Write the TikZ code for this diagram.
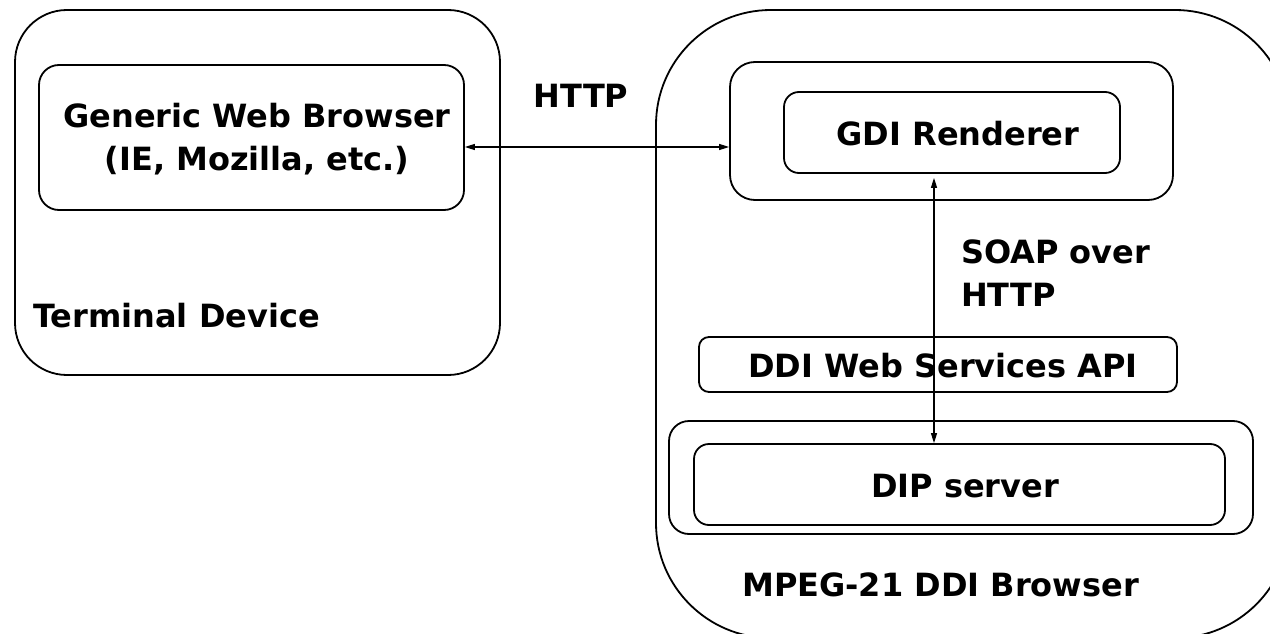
\documentclass[tikz,border=0pt]{standalone}
\usepackage{fontspec}
\newfontfamily\djfont{DejaVu Sans}
\usetikzlibrary{arrows.meta,calc}
\tikzset{
  txt/.style={font=\djfont\bfseries\fontsize{32}{43}\selectfont, inner sep=0pt},
  rbox/.style={draw, line width=1.8pt, inner sep=0pt, txt},
  conn/.style={line width=1.2pt, {Triangle[length=10pt,width=6pt]}-{Triangle[length=10pt,width=6pt]}}
}
\begin{document}
\begin{tikzpicture}[x=1pt,y=-1pt]
\clip (0,0) rectangle (1270,634);
\fill[white] (0,0) rectangle (1270,634);
% left container
\node[rbox, rounded corners=52pt, minimum width=485pt, minimum height=365pt] (term) at (257.5,192.5) {};
\node[rbox, rounded corners=20pt, minimum width=425pt, minimum height=145pt] (gwb) at (251.5,137.5) {};
\node[txt, align=center] (gwbt) at (257,139) {Generic Web Browser\\(IE, Mozilla, etc.)};
\node[txt, anchor=base west] (termt) at (33,327) {Terminal Device};
% right container
\node[rbox, rounded corners=115pt, minimum width=634pt, minimum height=628pt] (mpeg) at (973,324) {};
\node[rbox, rounded corners=25pt, minimum width=443pt, minimum height=138pt] (gdio) at (951.5,131) {};
\node[rbox, rounded corners=15pt, minimum width=336pt, minimum height=81pt] (gdii) at (952,132.5) {};
\node[txt] (gdit) at (958,134) {GDI Renderer};
\node[rbox, rounded corners=10pt, minimum width=478pt, minimum height=55pt] (ddi) at (938,364.5) {};
\node[txt] (ddit) at (943,366) {DDI Web Services API};
\node[rbox, rounded corners=20pt, minimum width=584pt, minimum height=113pt] (dipo) at (961,477.5) {};
\node[rbox, rounded corners=15pt, minimum width=531pt, minimum height=81pt] (dipi) at (959.5,484.5) {};
\node[txt] (dipt) at (965,486) {DIP server};
\node[txt, anchor=base west] (mpegt) at (742,596) {MPEG-21 DDI Browser};
% labels
\node[txt, anchor=base] (httpl) at (581,107) {HTTP};
\node[txt, anchor=north west, align=left] (soapl) at (961,240) {SOAP over\\HTTP};
% connectors
\coordinate (hy) at (0,147);
\coordinate (vx) at (934,0);
\draw[conn] (gwb.east |- hy) -- (gdio.west |- hy);
\draw[conn, shorten <=4pt] (vx |- gdii.south) -- (vx |- dipi.north);
\end{tikzpicture}
\end{document}
